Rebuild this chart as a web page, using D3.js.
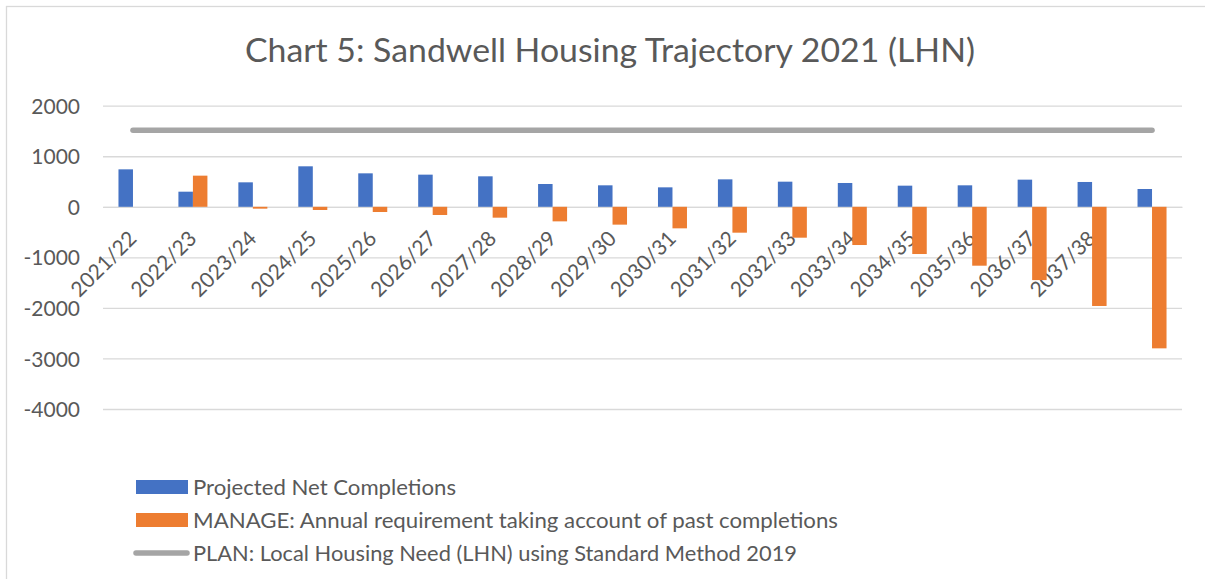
<!DOCTYPE html>
<html>
<head>
<meta charset="utf-8">
<script src="https://cdn.jsdelivr.net/npm/d3@7"></script>
<style>
  html, body { margin: 0; padding: 0; background: #fff; }
  svg { display: block; }
  text { font-family: Lato, "Open Sans", sans-serif; fill: #595959; }
</style>
</head>
<body>
<svg id="chart" width="1205" height="579"></svg>
<script>
// ---- data ----
const categories = ["2021/22","2022/23","2023/24","2024/25","2025/26","2026/27","2027/28","2028/29","2029/30","2030/31","2031/32","2032/33","2033/34","2034/35","2035/36","2036/37","2037/38","2038/39"];
const tickLabels = ["2021/22","2022/23","2023/24","2024/25","2025/26","2026/27","2027/28","2028/29","2029/30","2030/31","2031/32","2032/33","2033/34","2034/35","2035/36","2036/37","2037/38",""];
const projected = [741, 299, 484, 801, 662, 636, 603, 451, 425, 385, 543, 497, 471, 418, 425, 537, 491, 352];
const manage = [0, 616, -37, -63, -103, -162, -215, -288, -353, -426, -512, -611, -756, -934, -1165, -1450, -1962, -2800];
const plan = [1515, 1515, 1515, 1515, 1515, 1515, 1515, 1515, 1515, 1515, 1515, 1515, 1515, 1515, 1515, 1515, 1515, 1515];
const yTicks = [2000, 1000, 0, -1000, -2000, -3000, -4000];
const seriesNames = ["Projected Net Completions", "MANAGE: Annual requirement taking account of past completions", "PLAN: Local Housing Need (LHN) using Standard Method 2019"];
const title = "Chart 5: Sandwell Housing Trajectory 2021 (LHN)";

// ---- layout ----
const colors = { blue: "#4472C4", orange: "#ED7D31", gray: "#A5A5A5", grid: "#D9D9D9" };
const svg = d3.select("#chart");
const plotLeft = 103, plotRight = 1182, plotTop = 105.7, plotBottom = 409;

// chart border
svg.append("rect").attr("x", 6.5).attr("y", 6.5).attr("width", 1220).attr("height", 600)
  .attr("fill", "none").attr("stroke", colors.grid).attr("stroke-width", 1.3);

const x = d3.scaleBand().domain(categories).range([plotLeft, plotRight]).paddingInner(0).paddingOuter(0);
const y = d3.scaleLinear().domain([-4000, 2000]).range([plotBottom, plotTop]);
const barW = 14.5;
const cx = c => x(c) + x.bandwidth() / 2;

function fitText(sel, target) {
  sel.each(function() {
    const len = this.getComputedTextLength();
    if (Math.abs(len - target) > 1) {
      d3.select(this).attr("textLength", target).attr("lengthAdjust", "spacingAndGlyphs");
    }
  });
}

// title
svg.append("text").attr("x", 610).attr("y", 62).attr("text-anchor", "middle")
  .style("font-size", "33px").text(title).call(fitText, 730);

// y axis + gridlines
const yAxis = d3.axisLeft(y).tickValues(yTicks).tickSize(-(plotRight - plotLeft)).tickPadding(23).tickFormat(d => String(d));
const gy = svg.append("g").attr("transform", `translate(${plotLeft},0)`).call(yAxis);
gy.select(".domain").remove();
gy.selectAll(".tick line").attr("stroke", colors.grid).attr("stroke-width", 1.3);
gy.selectAll(".tick text").style("font-size", "21px").style("font-family", "Lato, sans-serif").attr("fill", "#595959").attr("dy", "0.36em");

// x axis at zero
const xAxis = d3.axisBottom(x).tickSize(0).tickFormat((d, i) => tickLabels[i]);
const gx = svg.append("g").attr("transform", `translate(0,${y(0)})`).call(xAxis);
gx.select(".domain").attr("stroke", colors.grid).attr("stroke-width", 1.3);
gx.selectAll(".tick text")
  .attr("x", 0).attr("y", 0).attr("dy", 0)
  .attr("transform", "translate(5,33) rotate(-45)")
  .attr("text-anchor", "end")
  .style("font-size", "21px").style("font-family", "Lato, sans-serif").attr("fill", "#595959");

// bars
svg.append("g").selectAll("rect").data(categories).join("rect")
  .attr("x", d => cx(d) - barW)
  .attr("width", barW)
  .attr("y", (d, i) => y(Math.max(0, projected[i])))
  .attr("height", (d, i) => Math.abs(y(projected[i]) - y(0)))
  .attr("fill", colors.blue);

svg.append("g").selectAll("rect").data(categories).join("rect")
  .attr("x", d => cx(d))
  .attr("width", barW)
  .attr("y", (d, i) => y(Math.max(0, manage[i])))
  .attr("height", (d, i) => Math.abs(y(manage[i]) - y(0)))
  .attr("fill", colors.orange);

// plan line
const line = d3.line().x((d, i) => cx(categories[i])).y(d => y(d));
svg.append("path").datum(plan).attr("d", line)
  .attr("fill", "none").attr("stroke", colors.gray).attr("stroke-width", 5.5).attr("stroke-linecap", "round");

// legend
const lg = svg.append("g");
lg.append("rect").attr("x", 136).attr("y", 480).attr("width", 52).attr("height", 14).attr("fill", colors.blue);
lg.append("rect").attr("x", 136).attr("y", 513).attr("width", 52).attr("height", 14).attr("fill", colors.orange);
lg.append("line").attr("x1", 136).attr("x2", 187).attr("y1", 553).attr("y2", 553)
  .attr("stroke", colors.gray).attr("stroke-width", 5.5).attr("stroke-linecap", "round");
const legendY = [495, 527.5, 560.5];
const legendW = [263, 645, 604];
seriesNames.forEach((n, i) => {
  lg.append("text").attr("x", 193).attr("y", legendY[i]).style("font-size", "21px").text(n).call(fitText, legendW[i]);
});
</script>
</body>
</html>
